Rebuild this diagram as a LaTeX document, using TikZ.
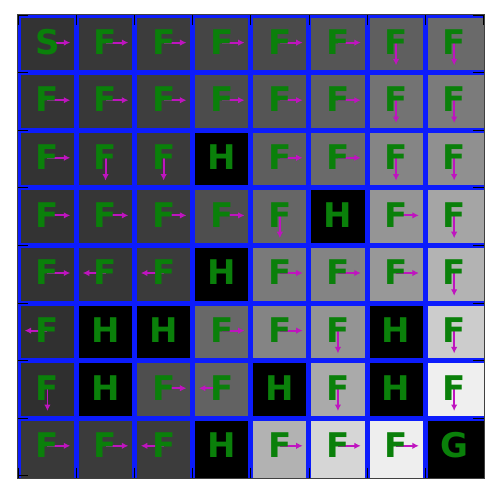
\documentclass[tikz,border=0pt]{standalone}
\usepackage{fontspec}
\setmainfont{DejaVu Sans}
\usetikzlibrary{arrows.meta,calc}
\definecolor{pgreen}{RGB}{10,128,10}
\definecolor{pmag}{RGB}{191,20,191}
\definecolor{pblue}{RGB}{12,28,252}
\tikzset{
  parrow/.style={draw=pmag,line width=1.9pt,-{Latex[length=6.5pt,width=6.5pt]}},
  lab/.style={inner sep=0pt,text=pgreen,font=\bfseries\fontsize{34}{34}\selectfont},
  gridline/.style={draw=pblue,line width=5pt},
  tick/.style={draw=black,line width=0.8pt},
}
\newcommand\mycell[5]{%
  \pgfmathsetmacro\xa{ifthenelse(#2==0,17,18.4+58.1*#2)}%
  \pgfmathsetmacro\xb{ifthenelse(#2==7,484,18.4+58.1*(#2+1))}%
  \pgfmathsetmacro\ya{ifthenelse(#1==0,14,15+57.6*#1)}%
  \pgfmathsetmacro\yb{ifthenelse(#1==7,478.5,15+57.6*(#1+1))}%
  \pgfmathsetmacro\cx{47.45+58.1*#2}%
  \pgfmathsetmacro\cy{42.6+57.6*#1}%
  \fill[fill={rgb,255:red,#3;green,#3;blue,#3}] (\xa,\ya) rectangle (\xb,\yb);
  \coordinate (c#1#2) at (\cx,\cy);
  \if\relax\detokenize{#5}\relax\else
    \coordinate (e#1#2) at ($(c#1#2)+22.8*(#5)$);
    \draw[parrow] (c#1#2) -- (e#1#2);
  \fi
  \node[lab] (t#1#2) at ($(c#1#2)+(0,-0.6)$) {#4};
}
\begin{document}
\begin{tikzpicture}[x=1pt,y=-1pt]
\useasboundingbox (0,0) rectangle (500,496);
\fill[white] (0,0) rectangle (500,496);
% row 0
\mycell{0}{0}{51}{S}{1,0}
\mycell{0}{1}{56}{F}{1,0}
\mycell{0}{2}{60}{F}{1,0}
\mycell{0}{3}{69}{F}{1,0}
\mycell{0}{4}{74}{F}{1,0}
\mycell{0}{5}{85}{F}{1,0}
\mycell{0}{6}{95}{F}{0,1}
\mycell{0}{7}{106}{F}{0,1}
% row 1
\mycell{1}{0}{52}{F}{1,0}
\mycell{1}{1}{56}{F}{1,0}
\mycell{1}{2}{62}{F}{1,0}
\mycell{1}{3}{76}{F}{1,0}
\mycell{1}{4}{85}{F}{1,0}
\mycell{1}{5}{96}{F}{1,0}
\mycell{1}{6}{115}{F}{0,1}
\mycell{1}{7}{123}{F}{0,1}
% row 2
\mycell{2}{0}{51}{F}{1,0}
\mycell{2}{1}{54}{F}{0,1}
\mycell{2}{2}{58}{F}{0,1}
\mycell{2}{3}{0}{H}{}
\mycell{2}{4}{94}{F}{1,0}
\mycell{2}{5}{106}{F}{1,0}
\mycell{2}{6}{133}{F}{0,1}
\mycell{2}{7}{144}{F}{0,1}
% row 3
\mycell{3}{0}{51}{F}{1,0}
\mycell{3}{1}{54}{F}{1,0}
\mycell{3}{2}{60}{F}{1,0}
\mycell{3}{3}{78}{F}{1,0}
\mycell{3}{4}{102}{F}{0,1}
\mycell{3}{5}{0}{H}{}
\mycell{3}{6}{149}{F}{1,0}
\mycell{3}{7}{165}{F}{0,1}
% row 4
\mycell{4}{0}{51}{F}{1,0}
\mycell{4}{1}{54}{F}{-1,0}
\mycell{4}{2}{59}{F}{-1,0}
\mycell{4}{3}{0}{H}{}
\mycell{4}{4}{122}{F}{1,0}
\mycell{4}{5}{132}{F}{1,0}
\mycell{4}{6}{152}{F}{1,0}
\mycell{4}{7}{179}{F}{0,1}
% row 5
\mycell{5}{0}{48}{F}{-1,0}
\mycell{5}{1}{0}{H}{}
\mycell{5}{2}{0}{H}{}
\mycell{5}{3}{104}{F}{1,0}
\mycell{5}{4}{132}{F}{1,0}
\mycell{5}{5}{148}{F}{0,1}
\mycell{5}{6}{0}{H}{}
\mycell{5}{7}{204}{F}{0,1}
% row 6
\mycell{6}{0}{47}{F}{0,1}
\mycell{6}{1}{0}{H}{}
\mycell{6}{2}{78}{F}{1,0}
\mycell{6}{3}{98}{F}{-1,0}
\mycell{6}{4}{0}{H}{}
\mycell{6}{5}{170}{F}{0,1}
\mycell{6}{6}{0}{H}{}
\mycell{6}{7}{239}{F}{0,1}
% row 7
\mycell{7}{0}{57}{F}{1,0}
\mycell{7}{1}{59}{F}{1,0}
\mycell{7}{2}{60}{F}{-1,0}
\mycell{7}{3}{0}{H}{}
\mycell{7}{4}{178}{F}{1,0}
\mycell{7}{5}{214}{F}{1,0}
\mycell{7}{6}{238}{F}{1,0}
\mycell{7}{7}{0}{G}{}
% blue grid
\foreach \k in {1,...,7} {
  \draw[gridline] (18.4+58.1*\k,14) -- (18.4+58.1*\k,478.5);
  \draw[gridline] (17,15+57.6*\k) -- (484,15+57.6*\k);
}
\fill[pblue] (17,14) rectangle (21,478.5);
\fill[pblue] (17,14) rectangle (484,18);
% ticks
\foreach \k in {0,...,8} {
  \draw[tick] (17,15+57.6*\k) -- (28,15+57.6*\k);
  \draw[tick] (473,15+57.6*\k) -- (484,15+57.6*\k);
  \draw[tick] (18.4+58.1*\k,14) -- (18.4+58.1*\k,25);
  \draw[tick] (18.4+58.1*\k,467.5) -- (18.4+58.1*\k,478.5);
}
% frame
\draw[line width=1pt,black!75] (17,14) rectangle (484,478.5);
\end{tikzpicture}
\end{document}
